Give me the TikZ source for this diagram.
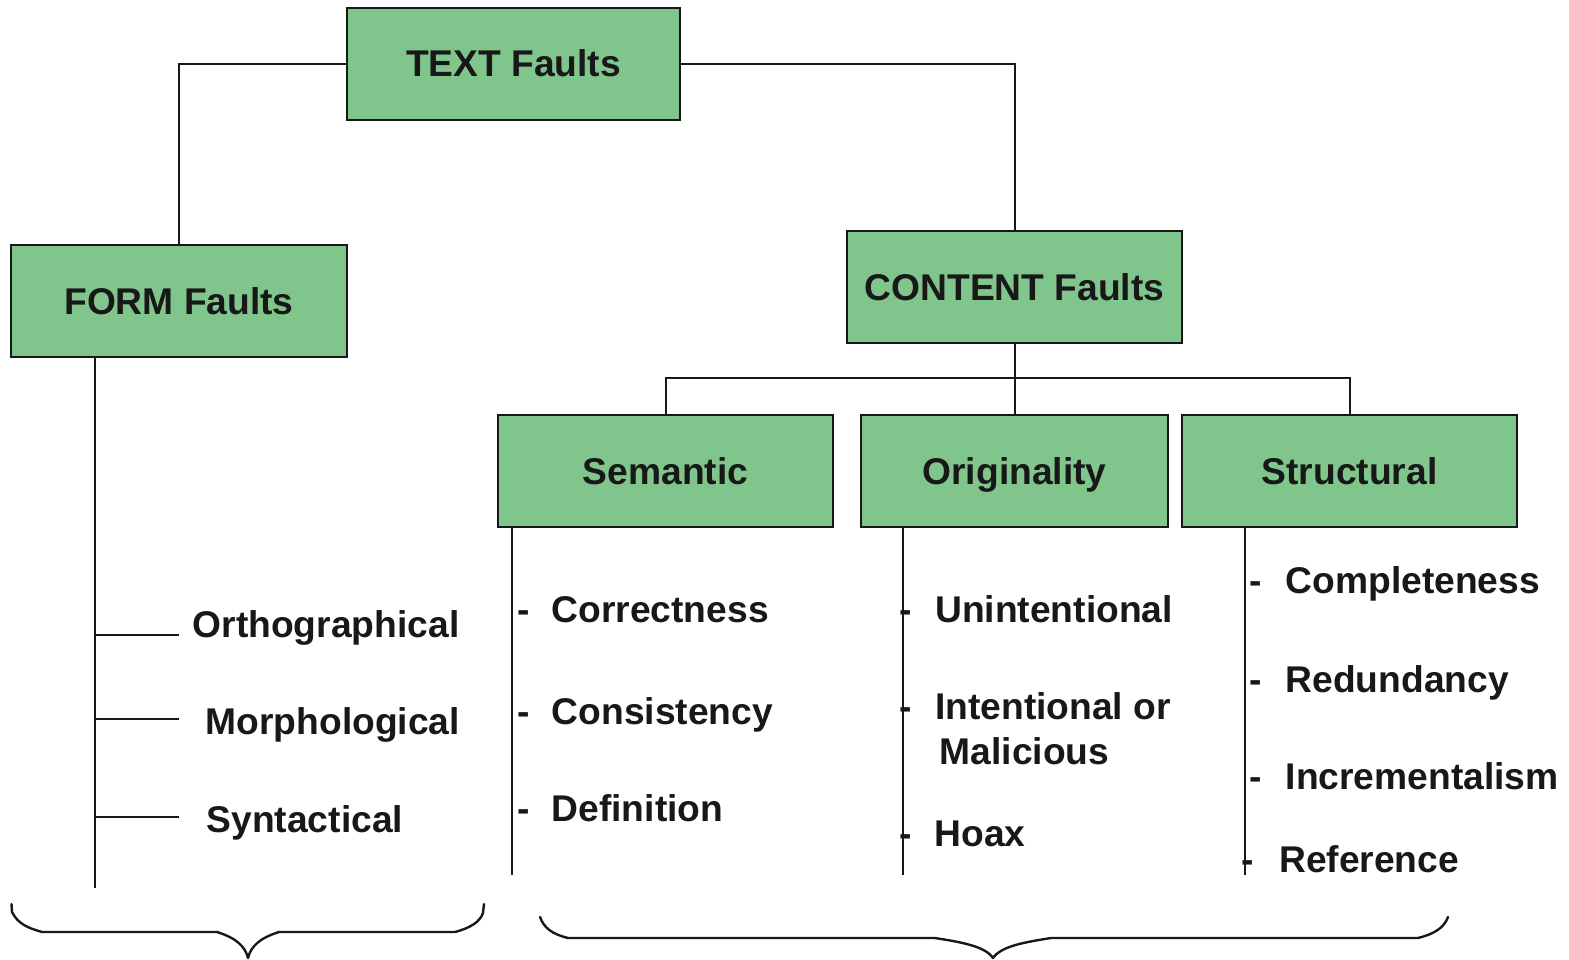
\documentclass[tikz,border=0pt]{standalone}
\usepackage{fontspec}
\setmainfont{Liberation Sans}
\definecolor{boxgreen}{RGB}{128,197,139}
\definecolor{ink}{RGB}{24,24,24}
\begin{document}
\begin{tikzpicture}[x=1pt,y=-1pt,
  font=\fontsize{37.2}{44}\selectfont\bfseries,
  every node/.style={text=ink},
  faultbox/.style={draw=ink, line width=2pt, fill=boxgreen, inner sep=0pt,
    text height=26pt, text depth=0pt, align=center},
  wire/.style={draw=ink, line width=2pt},
  item/.style={anchor=base west, inner sep=0pt},
  brace/.style={draw=ink, line width=2.4pt, line join=round, line cap=round}]
\useasboundingbox (0,0) rectangle (1569,960);

% boxes
\node[faultbox, minimum width=333pt, minimum height=112pt] (text) at (513.5,64) {TEXT Faults};
\node[faultbox, minimum width=336pt, minimum height=112pt] (form) at (179,301) {FORM Faults};
\node[faultbox, minimum width=335pt, minimum height=112pt] (content) at (1014.5,287) {CONTENT Faults};
\node[faultbox, minimum width=335pt, minimum height=112pt] (sem) at (665.5,471) {Semantic};
\node[faultbox, minimum width=307pt, minimum height=112pt] (orig) at (1014.5,471) {Originality};
\node[faultbox, minimum width=335pt, minimum height=112pt] (struct) at (1349.5,471) {Structural};

% tree connectors
\coordinate (bar) at (0,378);
\draw[wire] (text.west) -| (form.north);
\draw[wire] (text.east) -| (content.north);
\draw[wire] (content.south) -- (orig.north);
\draw[wire] (sem.north) -- (sem.north |- bar) -- (struct.north |- bar) -- (struct.north);

% FORM list
\coordinate (formend) at (95,888);
\draw[wire] (form.south -| formend) -- (formend);
\coordinate (t1) at (95,635); \coordinate (t1e) at (179,635);
\coordinate (t2) at (95,719); \coordinate (t2e) at (179,719);
\coordinate (t3) at (95,817); \coordinate (t3e) at (179,817);
\draw[wire] (t1) -- (t1e);
\draw[wire] (t2) -- (t2e);
\draw[wire] (t3) -- (t3e);
\node[item] (ortho) at (192.5,637) {Orthographical};
\node[item] (morph) at (205.5,734) {Morphological};
\node[item] (synt) at (206.5,832) {Syntactical};

% Semantic list
\coordinate (semend) at (512,875);
\draw[wire] (sem.south -| semend) -- (semend);
\node[item] (d1) at (517,622) {-};
\node[item] (corr) at (551.5,622) {Correctness};
\node[item] (d2) at (517,724) {-};
\node[item] (cons) at (551.5,724) {Consistency};
\node[item] (d3) at (517,821) {-};
\node[item] (defi) at (551.5,821) {Definition};

% Originality list
\coordinate (origend) at (903,875);
\draw[wire] (orig.south -| origend) -- (origend);
\node[item] (o1) at (899,622) {-};
\node[item] (unint) at (935,622) {Unintentional};
\node[item] (o2) at (899,719) {-};
\node[item] (intent) at (935,719) {Intentional or};
\node[item] (mal) at (939.5,764) {Malicious};
\node[item] (o3) at (899,846) {-};
\node[item] (hoax) at (934.5,846) {Hoax};

% Structural list
\coordinate (structend) at (1245,875);
\draw[wire] (struct.south -| structend) -- (structend);
\node[item] (s1) at (1249,593) {-};
\node[item] (compl) at (1285.5,593) {Completeness};
\node[item] (s2) at (1249,692) {-};
\node[item] (redun) at (1285.5,692) {Redundancy};
\node[item] (s3) at (1249,789) {-};
\node[item] (incr) at (1285.5,789) {Incrementalism};
\node[item] (s4) at (1241,872) {-};
\node[item] (refe) at (1279,872) {Reference};

% braces
\draw[brace] (11.5,904) -- (12,912) .. controls (18,924) and (28,928) .. (42,932)
  -- (217,932) .. controls (236,938) and (245,946) .. (248,958)
  .. controls (251,946) and (260,938) .. (279,932)
  -- (455,932) .. controls (470,928) and (480,922) .. (483,913) -- (484,904);
\draw[brace] (540,917) .. controls (544,928) and (552,934) .. (568,938)
  -- (935,938) .. controls (960,942) and (985,946) .. (993,958)
  .. controls (1001,946) and (1026,942) .. (1051,938)
  -- (1418,938) .. controls (1434,934) and (1444,928) .. (1448,917);
\end{tikzpicture}
\end{document}
